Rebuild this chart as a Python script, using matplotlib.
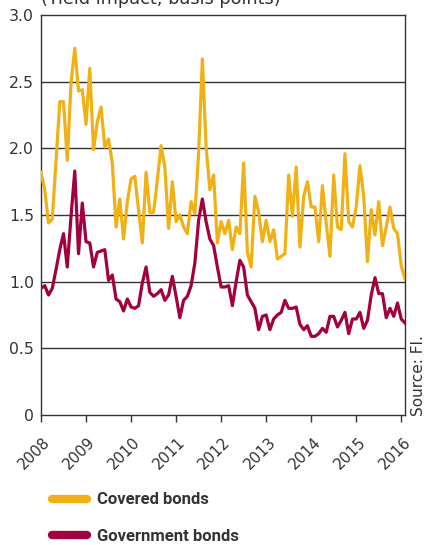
import numpy as np
import matplotlib
matplotlib.use("Agg")
import matplotlib.pyplot as plt
import matplotlib.transforms as mtransforms
from matplotlib.lines import Line2D

# ---- data (monthly, Jan 2008 - Feb 2016) ----
covered = [1.82, 1.69, 1.44, 1.47, 1.90, 2.35, 2.35, 1.91, 2.49, 2.75,
           2.43, 2.44, 2.18, 2.60, 1.99, 2.20, 2.31, 2.01, 2.07, 1.89,
           1.41, 1.62, 1.32, 1.60, 1.77, 1.79, 1.54, 1.29, 1.82, 1.52,
           1.52, 1.76, 2.02, 1.86, 1.40, 1.75, 1.45, 1.50, 1.41, 1.36,
           1.60, 1.51, 1.96, 2.67, 2.01, 1.69, 1.80, 1.29, 1.45, 1.36,
           1.46, 1.24, 1.41, 1.36, 1.89, 1.22, 1.11, 1.64, 1.52, 1.30,
           1.46, 1.30, 1.39, 1.17, 1.19, 1.21, 1.80, 1.49, 1.86, 1.26,
           1.64, 1.75, 1.56, 1.56, 1.30, 1.72, 1.44, 1.19, 1.80, 1.41,
           1.39, 1.96, 1.45, 1.41, 1.56, 1.87, 1.64, 1.15, 1.54, 1.35,
           1.60, 1.27, 1.41, 1.56, 1.40, 1.36, 1.12, 1.02]
government = [0.95, 0.97, 0.90, 0.95, 1.09, 1.24, 1.36, 1.11, 1.49, 1.83,
              1.21, 1.59, 1.30, 1.29, 1.11, 1.22, 1.23, 1.24, 1.01, 1.05,
              0.87, 0.85, 0.78, 0.87, 0.81, 0.80, 0.82, 0.99, 1.11, 0.92,
              0.89, 0.91, 0.94, 0.86, 0.90, 1.04, 0.89, 0.73, 0.86, 0.89,
              0.97, 1.14, 1.46, 1.62, 1.45, 1.32, 1.27, 1.11, 0.96, 0.96,
              0.97, 0.82, 1.00, 1.16, 1.11, 0.90, 0.85, 0.80, 0.64, 0.74,
              0.75, 0.64, 0.72, 0.75, 0.77, 0.86, 0.80, 0.80, 0.81, 0.68,
              0.64, 0.67, 0.59, 0.59, 0.61, 0.65, 0.62, 0.74, 0.74, 0.66,
              0.71, 0.77, 0.61, 0.72, 0.72, 0.77, 0.65, 0.71, 0.90, 1.03,
              0.91, 0.91, 0.73, 0.80, 0.74, 0.84, 0.72, 0.69]
start_year = 2008
year_ticks = list(range(2008, 2017))
y_ticks = [0, 0.5, 1.0, 1.5, 2.0, 2.5, 3.0]
y_labels = ["0", "0.5", "1.0", "1.5", "2.0", "2.5", "3.0"]
series_labels = ["Covered bonds", "Government bonds"]
title = "(Yield impact, basis points)"
source = "Source: FI."

YELLOW = "#F1B114"
RED = "#A3003F"
DARK = "#333333"

x = start_year + np.arange(len(covered)) / 12.0

W, H = 427, 545
fig = plt.figure(figsize=(W / 100, H / 100), dpi=100)
ax = fig.add_axes([41 / W, 1 - 415 / H, (405 - 41) / W, (415 - 15) / H])

font = ["DejaVu Sans"]
for yv in y_ticks[1:-1]:
    ax.axhline(yv, color=DARK, lw=1.0, zorder=1)
ax.plot(x, covered, color=YELLOW, lw=2.3, zorder=3)
ax.plot(x, government, color=RED, lw=2.3, zorder=3)

ax.set_xlim(2008, 2016 + 1 / 12)
ax.set_ylim(0, 3.0)
ax.set_yticks(y_ticks)
ax.set_yticklabels(y_labels, fontsize=11.3, family=font, color=DARK)
ax.tick_params(axis="y", length=0, pad=5)
ax.set_xticks(year_ticks)
ax.set_xticklabels([str(y) for y in year_ticks], fontsize=10.8, family=font,
                   color=DARK, rotation=45, ha="right", va="center",
                   rotation_mode="anchor")
ax.tick_params(axis="x", length=5, width=1, color=DARK, pad=13)
off = mtransforms.ScaledTranslation(7 / 100, 0, fig.dpi_scale_trans)
for lbl in ax.get_xticklabels():
    lbl.set_transform(lbl.get_transform() + off)
for s in ax.spines.values():
    s.set_color(DARK)
    s.set_linewidth(1.0)

fig.text(41 / W, 1 - 4 / H, title, fontsize=12.8, family=font, color=DARK,
         va="baseline", ha="left")
fig.text(419 / W, 1 - 416 / H, source, fontsize=11, family=font, color=DARK,
         rotation=90, va="bottom", ha="center")

handles = [Line2D([], [], color=YELLOW, lw=6, solid_capstyle="round"),
           Line2D([], [], color=RED, lw=6, solid_capstyle="round")]
leg = fig.legend(handles, series_labels, loc="upper left",
                 bbox_to_anchor=(44 / W, 1 - 484 / H), frameon=False,
                 borderpad=0, handlelength=2.1, handletextpad=0.6,
                 labelspacing=1.3,
                 prop={"family": ["Roboto", "DejaVu Sans"],
                       "weight": "bold", "size": 12})
for t in leg.get_texts():
    t.set_color(DARK)

fig.savefig("out.png", dpi=100)
